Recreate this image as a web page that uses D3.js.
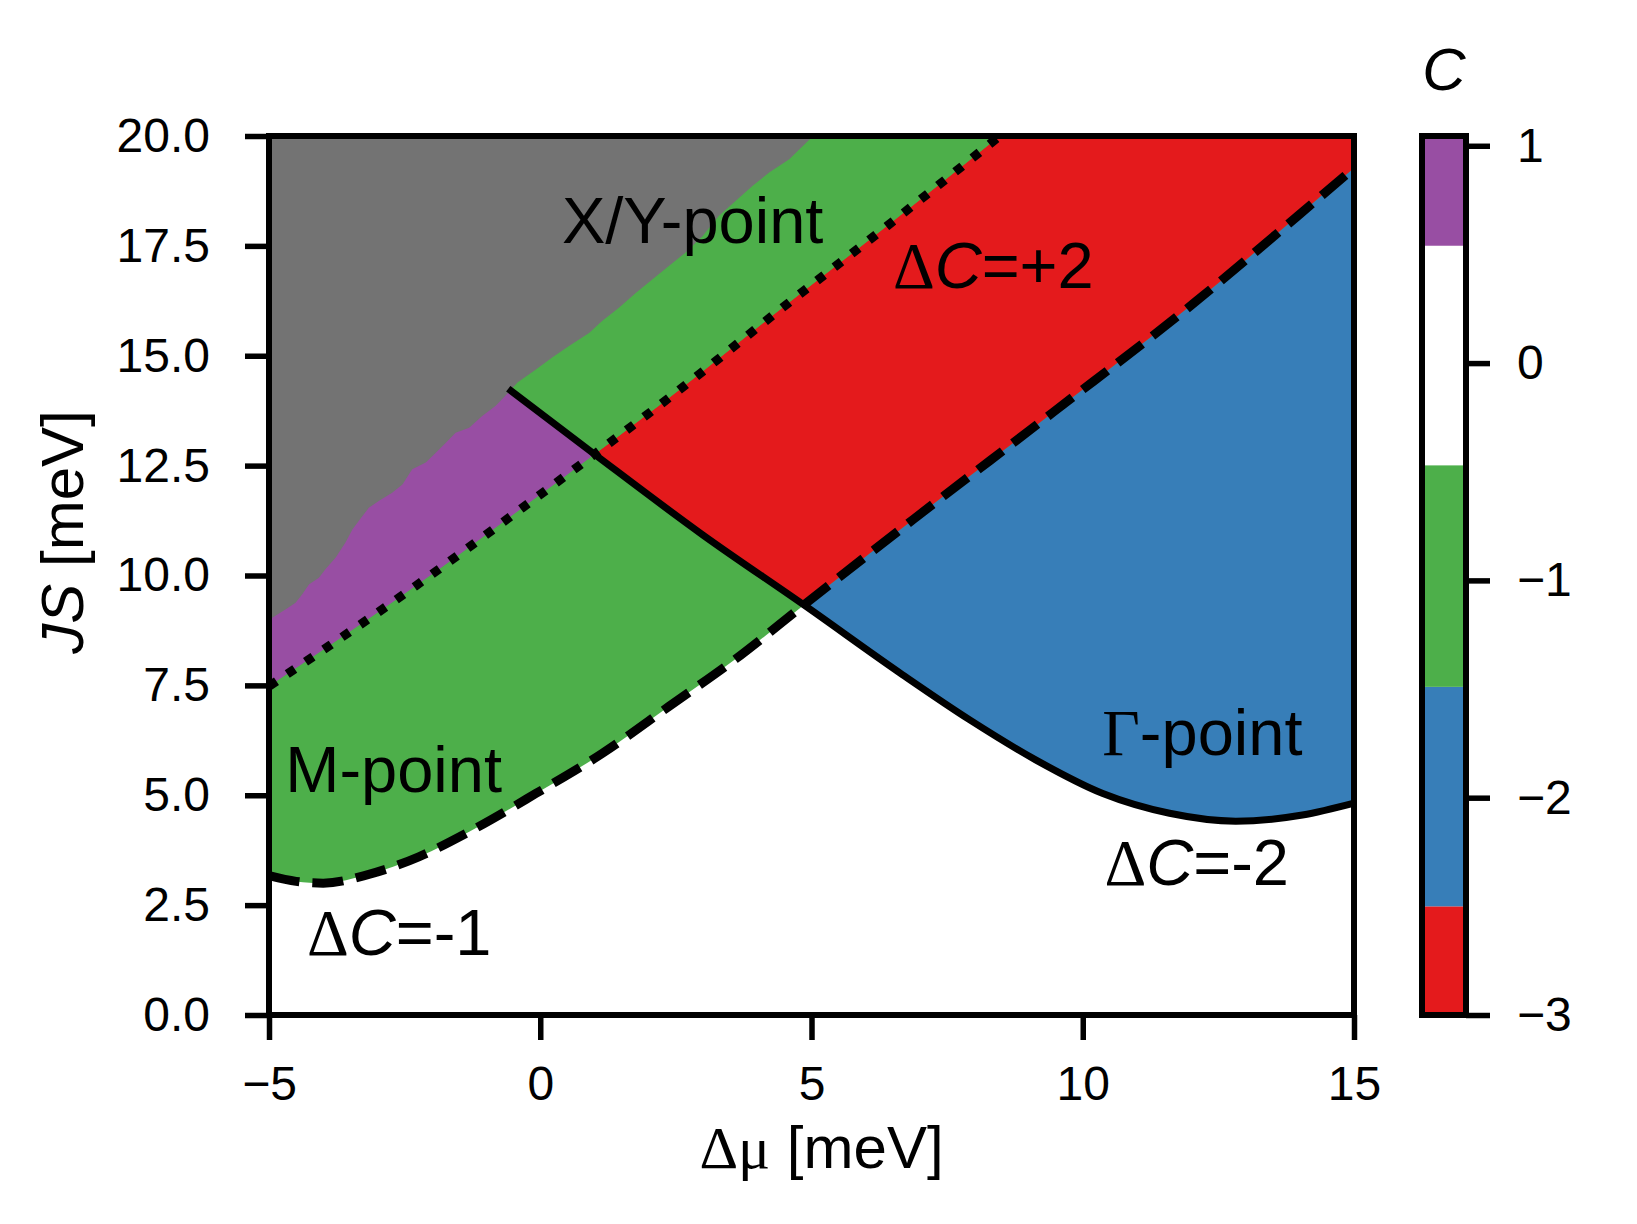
<!DOCTYPE html>
<html>
<head>
<meta charset="utf-8">
<script src="https://cdn.jsdelivr.net/npm/d3@7"></script>
<style>
  body { margin: 0; background: #fff; }
  svg { display: block; }
  text { font-family: "Liberation Sans", Arial, sans-serif; fill: #000; }
  .serif { font-family: "Liberation Serif", "Times New Roman", serif; }
  .it { font-style: italic; }
</style>
</head>
<body>
<svg id="chart" width="1637" height="1224"></svg>
<script>
// phase boundaries, points are [dmu, JS] in meV
// edge of the grey (X/Y-point) region, it is jagged in the original
const xyEdge = [[-5, 9.0], [-4.94, 9.04], [-4.69, 9.23], [-4.51, 9.38], [-4.39, 9.57], [-4.26, 9.8],
  [-4.08, 9.95], [-3.96, 10.14], [-3.77, 10.41], [-3.59, 10.75], [-3.46, 11.05], [-3.28, 11.35],
  [-3.16, 11.54], [-2.97, 11.7], [-2.73, 11.88], [-2.54, 12.07], [-2.36, 12.42], [-2.11, 12.57],
  [-1.93, 12.79], [-1.74, 13.02], [-1.56, 13.25], [-1.31, 13.36], [-1.07, 13.63], [-0.82, 13.86],
  [-0.59, 14.16], [-0.42, 14.39], [-0.08, 14.69], [0.22, 14.96], [0.53, 15.22], [0.9, 15.52],
  [1.14, 15.79], [1.45, 16.09], [1.76, 16.43], [2.07, 16.74], [2.37, 17.04], [2.68, 17.35],
  [2.99, 17.72], [3.29, 18.18], [3.6, 18.52], [3.91, 18.86], [4.22, 19.17], [4.59, 19.47], [5.03, 20]];
// solid line (Gamma-point gap closing)
const gammaCurve = [[-0.59, 14.25], [1.0, 12.76], [3.0, 10.92], [4.86, 9.33], [6.68, 7.74], [7.91, 6.72],
  [9.14, 5.8], [10.37, 5.04], [11.6, 4.59], [12.82, 4.41], [14.05, 4.55], [15, 4.82]];
// dashed line (M-point)
const mCurve = [[-5, 3.17], [-4.5, 3.04], [-4.0, 3.0], [-3.16, 3.2], [-2.24, 3.6], [-1.31, 4.17],
  [-0.08, 5.04], [1.14, 5.95], [2.37, 7.02], [3.6, 8.1], [4.86, 9.33], [6.88, 11.28], [9.46, 13.72],
  [12.1, 16.25], [14.0, 18.22], [15, 19.27]];
// dotted line (X/Y-point)
const xyCurve = [[-5, 7.48], [-3.89, 8.4], [-2.3, 9.76], [-0.33, 11.54], [0.99, 12.75], [2.56, 14.22],
  [4.44, 16.07], [6.39, 17.95], [8.47, 20]];

const xTicks = [-5, 0, 5, 10, 15];
const yTicks = [0, 2.5, 5, 7.5, 10, 12.5, 15, 17.5, 20];

// colorbar: bin edges and colours (C = -3 ... 1)
const cLevels = [-3, -2.5, -1.49, -0.47, 0.54, 1.045];
const cColors = ['#e41a1c', '#377eb8', '#4daf4a', '#ffffff', '#984ea3'];
const cTicks = [-3, -2, -1, 0, 1];
const grey = '#737373';

// text labels inside the plot, [string, style] pieces
const notes = [
  { parts: [['X/Y-point', '']], at: [0.4, 17.57] },
  { parts: [['\u0394', 'serif'], ['C', 'it'], ['=+2', '']], at: [6.5, 16.55] },
  { parts: [['M-point', '']], at: [-4.7, 5.08] },
  { parts: [['\u0394', 'serif'], ['C', 'it'], ['=-1', '']], at: [-4.3, 1.37] },
  { parts: [['\u0393', 'serif'], ['-point', '']], at: [10.36, 5.92] },
  { parts: [['\u0394', 'serif'], ['C', 'it'], ['=-2', '']], at: [10.4, 2.96] }
];

const svg = d3.select('#chart');
const x = d3.scaleLinear().domain([-5, 15]).range([269, 1354]);
const y = d3.scaleLinear().domain([0, 20]).range([1015, 136]);
const c = d3.scaleLinear().domain([cLevels[0], cLevels[cLevels.length - 1]]).range([1015, 136]);
const [x0, x1] = x.domain();
const [y0, y1] = y.domain();
const P = (a, b) => `${x(a)},${y(b)}`;

const smooth = d3.line().x(d => x(d[0])).y(d => y(d[1])).curve(d3.curveMonotoneX);
const jagged = d3.line().x(d => x(d[0])).y(d => y(d[1]));

// regions built from the boundary curves
const gx0 = gammaCurve[0][0];
const aboveSolid = smooth(gammaCurve) + `L${P(x1, y1)}L${P(gx0, y1)}Z`;
const aboveDashed = smooth(mCurve) + `L${P(x1, y1)}L${P(x0, y1)}Z`;
const belowDotted = smooth(xyCurve) + `L${P(x1, y1)}L${P(x1, y0)}L${P(x0, y0)}Z`;
const aboveDotted = smooth(xyCurve) + `L${P(x0, y1)}Z`;
const leftOfSolid = `M${P(x0, y1)}L${P(gx0, y1)}` + smooth(gammaCurve).replace(/^M/, 'L') +
  `L${P(x1, y0)}L${P(x0, y0)}Z`;
const greyArea = jagged(xyEdge) + `L${P(x0, y1)}Z`;

const defs = svg.append('defs');
defs.append('clipPath').attr('id', 'plot').append('rect')
  .attr('x', x(x0)).attr('y', y(y1)).attr('width', x(x1) - x(x0)).attr('height', y(y0) - y(y1));
defs.append('clipPath').attr('id', 'aboveDashed').append('path').attr('d', aboveDashed);
defs.append('clipPath').attr('id', 'belowDotted').append('path').attr('d', belowDotted);
defs.append('clipPath').attr('id', 'leftOfSolid').append('path').attr('d', leftOfSolid);

const fills = svg.append('g').attr('clip-path', 'url(#plot)');
fills.append('path').attr('d', aboveSolid).attr('fill', cColors[1]);     // C = -2
fills.append('path').attr('d', aboveDashed).attr('fill', cColors[2]);    // C = -1
fills.append('g').attr('clip-path', 'url(#aboveDashed)')
  .append('g').attr('clip-path', 'url(#belowDotted)')
  .append('path').attr('d', aboveSolid).attr('fill', cColors[0]);       // C = -3
fills.append('path').attr('d', aboveDotted).attr('fill', cColors[2]);
fills.append('g').attr('clip-path', 'url(#leftOfSolid)')
  .append('path').attr('d', aboveDotted).attr('fill', cColors[4]);      // C = 1
fills.append('path').attr('d', greyArea).attr('fill', grey);

// boundary lines
const lines = svg.append('g').attr('clip-path', 'url(#plot)').attr('fill', 'none').attr('stroke', '#000');
lines.append('path').attr('d', smooth(xyCurve)).attr('stroke-width', 9).attr('stroke-dasharray', '9,13');
lines.append('path').attr('d', smooth(mCurve)).attr('stroke-width', 9).attr('stroke-dasharray', '31,13');
lines.append('path').attr('d', smooth(gammaCurve)).attr('stroke-width', 7);

// frame
svg.append('rect').attr('x', x(x0)).attr('y', y(y1)).attr('width', x(x1) - x(x0)).attr('height', y(y0) - y(y1))
  .attr('fill', 'none').attr('stroke', '#000').attr('stroke-width', 6);

// axes
function styleAxis(g) {
  g.select('.domain').remove();
  g.selectAll('.tick line').attr('stroke-width', 5.5);
  g.selectAll('.tick text').attr('font-size', 48).attr('font-family', '"Liberation Sans", Arial, sans-serif');
}
svg.append('g').attr('transform', `translate(0,${y(y0)})`)
  .call(d3.axisBottom(x).tickValues(xTicks).tickFormat(d3.format('d')).tickSize(25).tickPadding(26))
  .call(styleAxis);
svg.append('g').attr('transform', `translate(${x(x0)},0)`)
  .call(d3.axisLeft(y).tickValues(yTicks).tickFormat(d3.format('.1f')).tickSize(24).tickPadding(35))
  .call(styleAxis);

function addText(parent, parts, size) {
  const t = parent.append('text').attr('font-size', size);
  parts.forEach(([s, cls]) => t.append('tspan').attr('class', cls).text(s));
  return t;
}

addText(svg, [['\u0394\u03bc', 'serif'], [' [meV]', '']], 60)
  .attr('x', (x(x0) + x(x1)) / 2 + 10).attr('y', 1168).attr('text-anchor', 'middle');
addText(svg, [['JS', 'it'], [' [meV]', '']], 60)
  .attr('text-anchor', 'middle').attr('transform', 'translate(83,532) rotate(-90)');

notes.forEach(n => {
  addText(svg, n.parts, 65).attr('x', x(n.at[0])).attr('y', y(n.at[1]));
});

// colorbar
const cbX = 1422, cbW = 44;
const cb = svg.append('g');
cb.selectAll('rect.bin')
  .data(cColors)
  .join('rect')
  .attr('class', 'bin')
  .attr('x', cbX).attr('width', cbW)
  .attr('y', (d, i) => c(cLevels[i + 1]))
  .attr('height', (d, i) => c(cLevels[i]) - c(cLevels[i + 1]))
  .attr('fill', d => d);
cb.append('rect').attr('x', cbX).attr('y', c.range()[1]).attr('width', cbW)
  .attr('height', c.range()[0] - c.range()[1])
  .attr('fill', 'none').attr('stroke', '#000').attr('stroke-width', 6);
svg.append('g').attr('transform', `translate(${cbX + cbW},0)`)
  .call(d3.axisRight(c).tickValues(cTicks).tickFormat(d3.format('d')).tickSize(24).tickPadding(27))
  .call(styleAxis);
addText(svg, [['C', 'it']], 60).attr('x', cbX + cbW / 2).attr('y', 90).attr('text-anchor', 'middle');
</script>
</body>
</html>
